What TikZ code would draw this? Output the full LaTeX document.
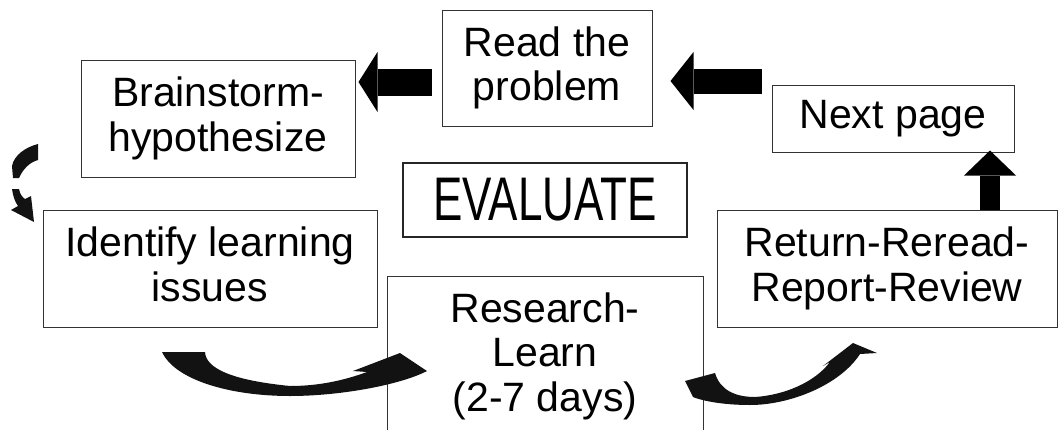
\documentclass[tikz,border=0pt]{standalone}
\usepackage{fontspec}
\setmainfont{Liberation Sans}
\usepackage{graphicx}
\usetikzlibrary{arrows.meta,calc}

\begin{document}
\begin{tikzpicture}[x=1pt,y=-1pt,
    box node/.style={draw=black!80,line width=1pt,align=center,inner sep=0pt,font=\fontsize{41}{44.5}\selectfont},
    fat arrow/.style n args={3}{line width=#1pt,-{Triangle[width=#2pt,length=#3pt,line width=0pt]}},
    curl/.style={fill=black!93}]

    \useasboundingbox (0,0) rectangle (1058,429);
    \clip (0,0) rectangle (1058,429);

    % boxes of the cycle
    \node[box node,minimum width=210pt,minimum height=116pt] (read) at (547,68) {Read the\\problem};
    \node[box node,minimum width=274pt,minimum height=117pt] (brain) at (218,118.5) {Brainstorm-\\hypothesize};
    \node[box node,minimum width=334pt,minimum height=117pt] (ident) at (210,268.5) {Identify learning\\issues\vphantom{y}};
    \node[box node,minimum width=316pt,minimum height=160pt] (research) at (545,356) {Research-\\Learn\\(2-7 days)};
    \node[box node,minimum width=340pt,minimum height=117pt] (return) at (887,268.5) {Return-Reread-\\Report-Review};
    \node[box node,minimum width=242pt,minimum height=67pt] (next) at (893,118.5) {Next page};
    \node[box node,line width=2pt,draw=black!85,minimum width=284pt,minimum height=74pt,
          font=\fontsize{44}{48}\selectfont] (eval) at (545,200) {\scalebox{1}[1.4]{EVALUATE}};

    % straight block arrows
    \draw[fat arrow={27}{60}{19}] ([shift={(-10,14)}]read.west) -- ([shift={(3,-36.5)}]brain.east);
    \draw[fat arrow={25}{58}{23}] ([shift={(-10,-37.5)}]next.west) -- ([shift={(18,13)}]read.east);
    \draw[fat arrow={20}{52}{25}] ([shift={(103,0)}]return.north) -- ([shift={(97,-2)}]next.south);

    % curled arrows
    \fill[curl] (38,144) .. controls (26,147) and (14,155) .. (12,166) -- (13,178) -- (19,178)
        .. controls (23,169) and (30,162) .. (38,160) -- cycle;
    \fill[curl] (12,189) -- (19,189) .. controls (20,194) and (22,197) .. (25,199) -- (31,196)
        -- (34,222) -- (11,210) -- (18,206) .. controls (15,202) and (13,196) .. cycle;

    \fill[curl] (162,352) -- (205,352) .. controls (206,368) and (230,380) .. (290,386)
        .. controls (320,386) and (345,380) .. (367,372) -- (353,371) -- (400,353) -- (427,371)
        .. controls (400,385) and (340,396) .. (290,396)
        .. controls (230,396) and (175,380) .. cycle;

    \fill[curl] (685,381) -- (715,373) .. controls (720,390) and (735,397) .. (755,397)
        .. controls (785,395) and (815,382) .. (830,362) -- (823,366) -- (853,343) -- (877,353)
        -- (860,354) .. controls (840,385) and (790,405) .. (750,405)
        .. controls (720,405) and (700,400) .. (693,397) -- cycle;

\end{tikzpicture}
\end{document}
